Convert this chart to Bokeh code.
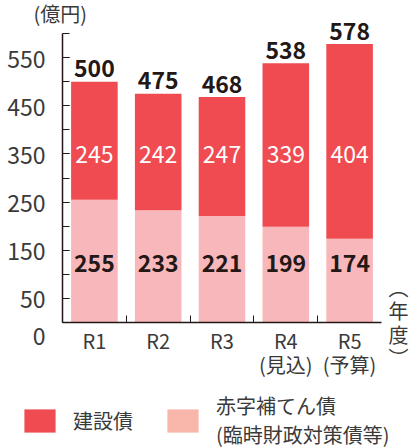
from bokeh.plotting import figure
from bokeh.layouts import column
from bokeh.models import (ColumnDataSource, FixedTicker, Legend, LegendItem, LinearAxis)
from bokeh.core.properties import value
from bokeh.embed import file_html
from bokeh.resources import INLINE

# ---- data ----
years = ["R1", "R2", "R3", "R4\n(見込)", "R5\n(予算)"]
kensetsu = [245, 242, 247, 339, 404]          # 建設債
akaji = [255, 233, 221, 199, 174]             # 赤字補てん債(臨時財政対策債等)
totals = [500, 475, 468, 538, 578]
y_tick_labels = [0, 50, 150, 250, 350, 450, 550]
y_minor_ticks = [0, 50, 100, 150, 200, 250, 300, 350, 400, 450, 500, 550, 600]
y_axis_max = 600
series_names = ["建設債", "赤字補てん債\n(臨時財政対策債等)"]
unit_label = "(億円)"
year_label = "︵\n年\n度\n︶"

RED = "#EF4B51"
PINK = "#F8B7BA"
PINK_LEG = "#F9B6AB"
FONT = "Noto Sans CJK JP"
INK = "#231815"
GREY = "#3a3a3a"

xs = list(range(1, len(years) + 1))
src = ColumnDataSource(dict(
    x=xs, kensetsu=kensetsu, akaji=akaji, totals=totals,
    kl=[str(v) for v in kensetsu], al=[str(v) for v in akaji], tl=[str(v) for v in totals],
    ky=[349] * len(xs), ay=[123] * len(xs),
))

p = figure(width=411, height=390, x_range=(0.5, 5.5), y_range=(0, 627),
           output_backend="svg", toolbar_location=None,
           min_border_left=62, min_border_right=28, min_border_top=20, min_border_bottom=68)
p.outline_line_color = None
p.xgrid.visible = False
p.ygrid.visible = False

rs = p.vbar_stack(["akaji", "kensetsu"], x="x", width=0.73, source=src,
                  color=[PINK, RED], line_color=None)

# value labels
p.text(x="x", y="totals", text="tl", source=src, text_align="center", text_baseline="middle",
       y_offset=-13, text_font=value(FONT), text_font_size="23px", text_font_style="bold",
       text_color=INK)
p.text(x="x", y="ky", text="kl", source=src, text_align="center", text_baseline="middle",
       text_font=value(FONT), text_font_size="23px", text_color="white")
p.text(x="x", y="ay", text="al", source=src, text_align="center", text_baseline="middle",
       text_font=value(FONT), text_font_size="23px", text_font_style="bold", text_color=INK)

# y axis
ya = p.yaxis[0]
ya.bounds = (0, y_axis_max)
ya.ticker = FixedTicker(ticks=y_tick_labels, minor_ticks=y_minor_ticks)
ya.major_label_overrides = {0: "\n0"}
ya.major_tick_in = 7
ya.major_tick_out = 0
ya.minor_tick_in = 7
ya.minor_tick_out = 0
ya.major_label_standoff = 17
ya.major_label_text_font = FONT
ya.major_label_text_font_size = "23px"
ya.major_label_text_color = GREY
ya.major_label_text_line_height = 0.75
ya.axis_line_color = INK
ya.major_tick_line_color = INK
ya.minor_tick_line_color = INK
ya.axis_line_width = 1.5

# x axis
xa = p.xaxis[0]
xa.ticker = FixedTicker(ticks=xs, minor_ticks=[1.5, 2.5, 3.5, 4.5])
xa.major_label_overrides = {x: lab for x, lab in zip(xs, years)}
xa.major_tick_in = 0
xa.major_tick_out = 0
xa.minor_tick_in = 7
xa.minor_tick_out = 0
xa.major_label_standoff = 3
xa.major_label_text_font = FONT
xa.major_label_text_font_size = "20px"
xa.major_label_text_color = GREY
xa.major_label_text_line_height = 0.85
xa.axis_line_color = INK
xa.minor_tick_line_color = INK
xa.axis_line_width = 1.5

# right-side year unit (upright, stacked)
ra = LinearAxis(ticker=FixedTicker(ticks=[0], minor_ticks=[]),
                major_label_overrides={0: year_label})
ra.axis_line_color = None
ra.major_tick_line_color = None
ra.minor_tick_line_color = None
ra.major_tick_out = 0
ra.major_tick_in = 0
ra.major_label_standoff = 7
ra.major_label_text_font = FONT
ra.major_label_text_font_size = "20px"
ra.major_label_text_color = GREY
ra.major_label_text_line_height = 0.8
p.add_layout(ra, "right")

# unit label at top-left
p.title.text = unit_label
p.title.align = "left"
p.title.offset = -29
p.title.standoff = -14
p.title.vertical_align = "bottom"
p.title.text_font = FONT
p.title.text_font_size = "20px"
p.title.text_font_style = "normal"
p.title.text_color = GREY

# legend strip below the chart (proxy swatches sit outside the strip's visible range)
lf = figure(width=411, height=58, x_range=(0, 1), y_range=(0, 1),
            output_backend="svg", toolbar_location=None,
            min_border=0, min_border_left=0, min_border_right=0,
            min_border_top=0, min_border_bottom=0)
lf.axis.visible = False
lf.grid.visible = False
lf.outline_line_color = None
sw_red = lf.vbar(x=[-5], top=[-5], bottom=[-6], width=0.5, color=RED, line_color=None)
sw_pink = lf.vbar(x=[-5], top=[-5], bottom=[-6], width=0.5, color=PINK_LEG, line_color=None)
legend = Legend(items=[LegendItem(label=series_names[0], renderers=[sw_red]),
                       LegendItem(label=series_names[1], renderers=[sw_pink])],
                orientation="horizontal", location=(20, -1),
                glyph_width=39, glyph_height=29, label_standoff=14, spacing=30,
                padding=0, margin=0, border_line_color=None, background_fill_alpha=0,
                label_text_font=FONT, label_text_font_size="20px", label_text_color=GREY)
lf.add_layout(legend)

open("out.html", "w").write(file_html(column(p, column(lf, spacing=0), spacing=0), INLINE))
